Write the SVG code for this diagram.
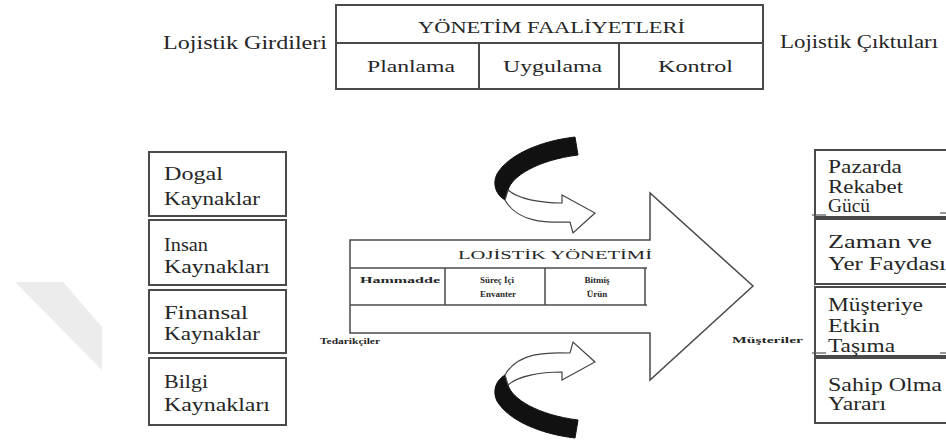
<svg xmlns="http://www.w3.org/2000/svg" xmlns:xlink="http://www.w3.org/1999/xlink" width="946" height="445" viewBox="0 0 946 445">
<style>
.box{fill:#fff;stroke:#4a4a4a;stroke-width:2}
.ln{fill:none;stroke:#4a4a4a;stroke-width:2}
.thin{fill:none;stroke:#4a4a4a;stroke-width:1.5}
.mark{stroke:#555;stroke-width:1.2}
.t{font-family:"Liberation Serif","Times New Roman",serif;fill:#262626}
.big{font-size:18px}
.mid{font-size:16px}
.small{font-size:9px;font-weight:bold}
.tiny{font-size:8px;font-weight:bold}
.c{text-anchor:middle}
</style>
<defs>
<g id="curl">
<path d="M575,137 C540,141 508,155 497,174 C492,184 496,195 505,200 L508,190 C512,176 538,160 578,155 Z" fill="#111" stroke="#111" stroke-width="1"/>
<path d="M508,190 C518,199 540,203 562,203 L562,195 L595,213 L573,233 L570,222 C545,223 517,222 505,200 Z" fill="#fff" stroke="#444" stroke-width="1.2"/>
</g>
</defs>
<rect width="946" height="445" fill="#fff"/>
<polygon points="15,282 63,282 102,327 102,370" fill="#ececec"/>

<g id="yonetim-faaliyetleri">
<rect class="box" x="336" y="5" width="427" height="84"/>
<line class="ln" x1="336" y1="43" x2="763" y2="43"/>
<line class="ln" x1="479" y1="43" x2="479" y2="89"/>
<line class="ln" x1="619" y1="43" x2="619" y2="89"/>
<text class="t mid" x="418" y="33" textLength="267" lengthAdjust="spacingAndGlyphs">YÖNETİM FAALİYETLERİ</text>
<text class="t mid" x="367" y="72" textLength="88" lengthAdjust="spacingAndGlyphs">Planlama</text>
<text class="t mid" x="503" y="72" textLength="99" lengthAdjust="spacingAndGlyphs">Uygulama</text>
<text class="t mid" x="658" y="72" textLength="75" lengthAdjust="spacingAndGlyphs">Kontrol</text>
</g>
<g id="lojistik-girdileri">
<text class="t big" x="163" y="49" textLength="164" lengthAdjust="spacingAndGlyphs">Lojistik Girdileri</text>
</g>
<g id="lojistik-ciktilari">
<text class="t big" x="780" y="48" textLength="158" lengthAdjust="spacingAndGlyphs">Lojistik Çıktuları</text>
</g>

<g id="dogal-kaynaklar">
<rect class="box" x="149" y="152" width="137" height="64"/>
<text class="t big" x="164" y="180" textLength="59" lengthAdjust="spacingAndGlyphs">Dogal</text>
<text class="t big" x="164" y="205" textLength="96" lengthAdjust="spacingAndGlyphs">Kaynaklar</text>
</g>
<g id="insan-kaynaklari">
<rect class="box" x="149" y="220" width="137" height="65"/>
<text class="t big" x="164" y="251" textLength="44" lengthAdjust="spacingAndGlyphs">Insan</text>
<text class="t big" x="164" y="273" textLength="106" lengthAdjust="spacingAndGlyphs">Kaynakları</text>
</g>
<g id="finansal-kaynaklar">
<rect class="box" x="149" y="290" width="137" height="63"/>
<text class="t big" x="164" y="319" textLength="84" lengthAdjust="spacingAndGlyphs">Finansal</text>
<text class="t big" x="164" y="340" textLength="96" lengthAdjust="spacingAndGlyphs">Kaynaklar</text>
</g>
<g id="bilgi-kaynaklari">
<rect class="box" x="149" y="358" width="137" height="67"/>
<text class="t big" x="164" y="388" textLength="44" lengthAdjust="spacingAndGlyphs">Bilgi</text>
<text class="t big" x="164" y="411" textLength="106" lengthAdjust="spacingAndGlyphs">Kaynakları</text>
</g>
<g id="tedarikciler">
<text class="t tiny" x="320" y="344" textLength="60" lengthAdjust="spacingAndGlyphs">Tedarikçiler</text>
</g>

<g id="lojistik-yonetimi">
<polygon class="thin" points="350,240 650,240 650,193 753,286 650,380 650,333 350,333 350,240" fill="#fff"/>
<line class="thin" x1="350" y1="268" x2="647" y2="268"/>
<line class="thin" x1="350" y1="305" x2="647" y2="305"/>
<line class="thin" x1="645" y1="268" x2="645" y2="305"/>
<line class="thin" x1="445" y1="268" x2="445" y2="305"/>
<line class="thin" x1="545" y1="268" x2="545" y2="305"/>
<text class="t" font-size="12" x="458" y="259" textLength="194" lengthAdjust="spacingAndGlyphs">LOJİSTİK YÖNETİMİ</text>
<text class="t small" x="360" y="283" textLength="80" lengthAdjust="spacingAndGlyphs">Hammadde</text>
<text class="t small c" x="497" y="283">Süreç İçi</text>
<text class="t small c" x="498" y="297">Envanter</text>
<text class="t small c" x="597" y="283">Bitmiş</text>
<text class="t small c" x="597" y="297">Ürün</text>
</g>

<g id="musteriler">
<text class="t tiny" x="732" y="343" textLength="71" lengthAdjust="spacingAndGlyphs">Müşteriler</text>
</g>

<g id="pazarda-rekabet-gucu">
<rect class="box" x="815" y="150" width="140" height="67"/>
<text class="t big" x="828" y="173" textLength="74" lengthAdjust="spacingAndGlyphs">Pazarda</text>
<text class="t big" x="828" y="193" textLength="75" lengthAdjust="spacingAndGlyphs">Rekabet</text>
<text class="t big" x="828" y="212" textLength="42" lengthAdjust="spacingAndGlyphs">Gücü</text>
<line class="mark" x1="812" y1="215" x2="826" y2="215"/>
<line class="mark" x1="940" y1="213" x2="946" y2="213"/>
</g>
<g id="zaman-ve-yer-faydasi">
<rect class="box" x="815" y="219" width="140" height="65"/>
<text class="t big" x="828" y="248" textLength="104" lengthAdjust="spacingAndGlyphs">Zaman ve</text>
<text class="t big" x="828" y="270" textLength="118" lengthAdjust="spacingAndGlyphs">Yer Faydası</text>
</g>
<g id="musteriye-etkin-tasima">
<rect class="box" x="815" y="287" width="140" height="69"/>
<text class="t big" x="828" y="311" textLength="95" lengthAdjust="spacingAndGlyphs">Müşteriye</text>
<text class="t big" x="828" y="332" textLength="52" lengthAdjust="spacingAndGlyphs">Etkin</text>
<text class="t big" x="828" y="352" textLength="67" lengthAdjust="spacingAndGlyphs">Taşıma</text>
<line class="mark" x1="812" y1="353" x2="826" y2="353"/>
<line class="mark" x1="940" y1="353" x2="946" y2="353"/>
</g>
<g id="sahip-olma-yarari">
<rect class="box" x="815" y="358" width="140" height="65"/>
<text class="t big" x="828" y="391" textLength="114" lengthAdjust="spacingAndGlyphs">Sahip Olma</text>
<text class="t big" x="828" y="410" textLength="58" lengthAdjust="spacingAndGlyphs">Yararı</text>
</g>

<g id="connectors">
<use xlink:href="#curl"/>
<use xlink:href="#curl" transform="matrix(1 0 0 -1 0 575)"/>
</g>
</svg>
